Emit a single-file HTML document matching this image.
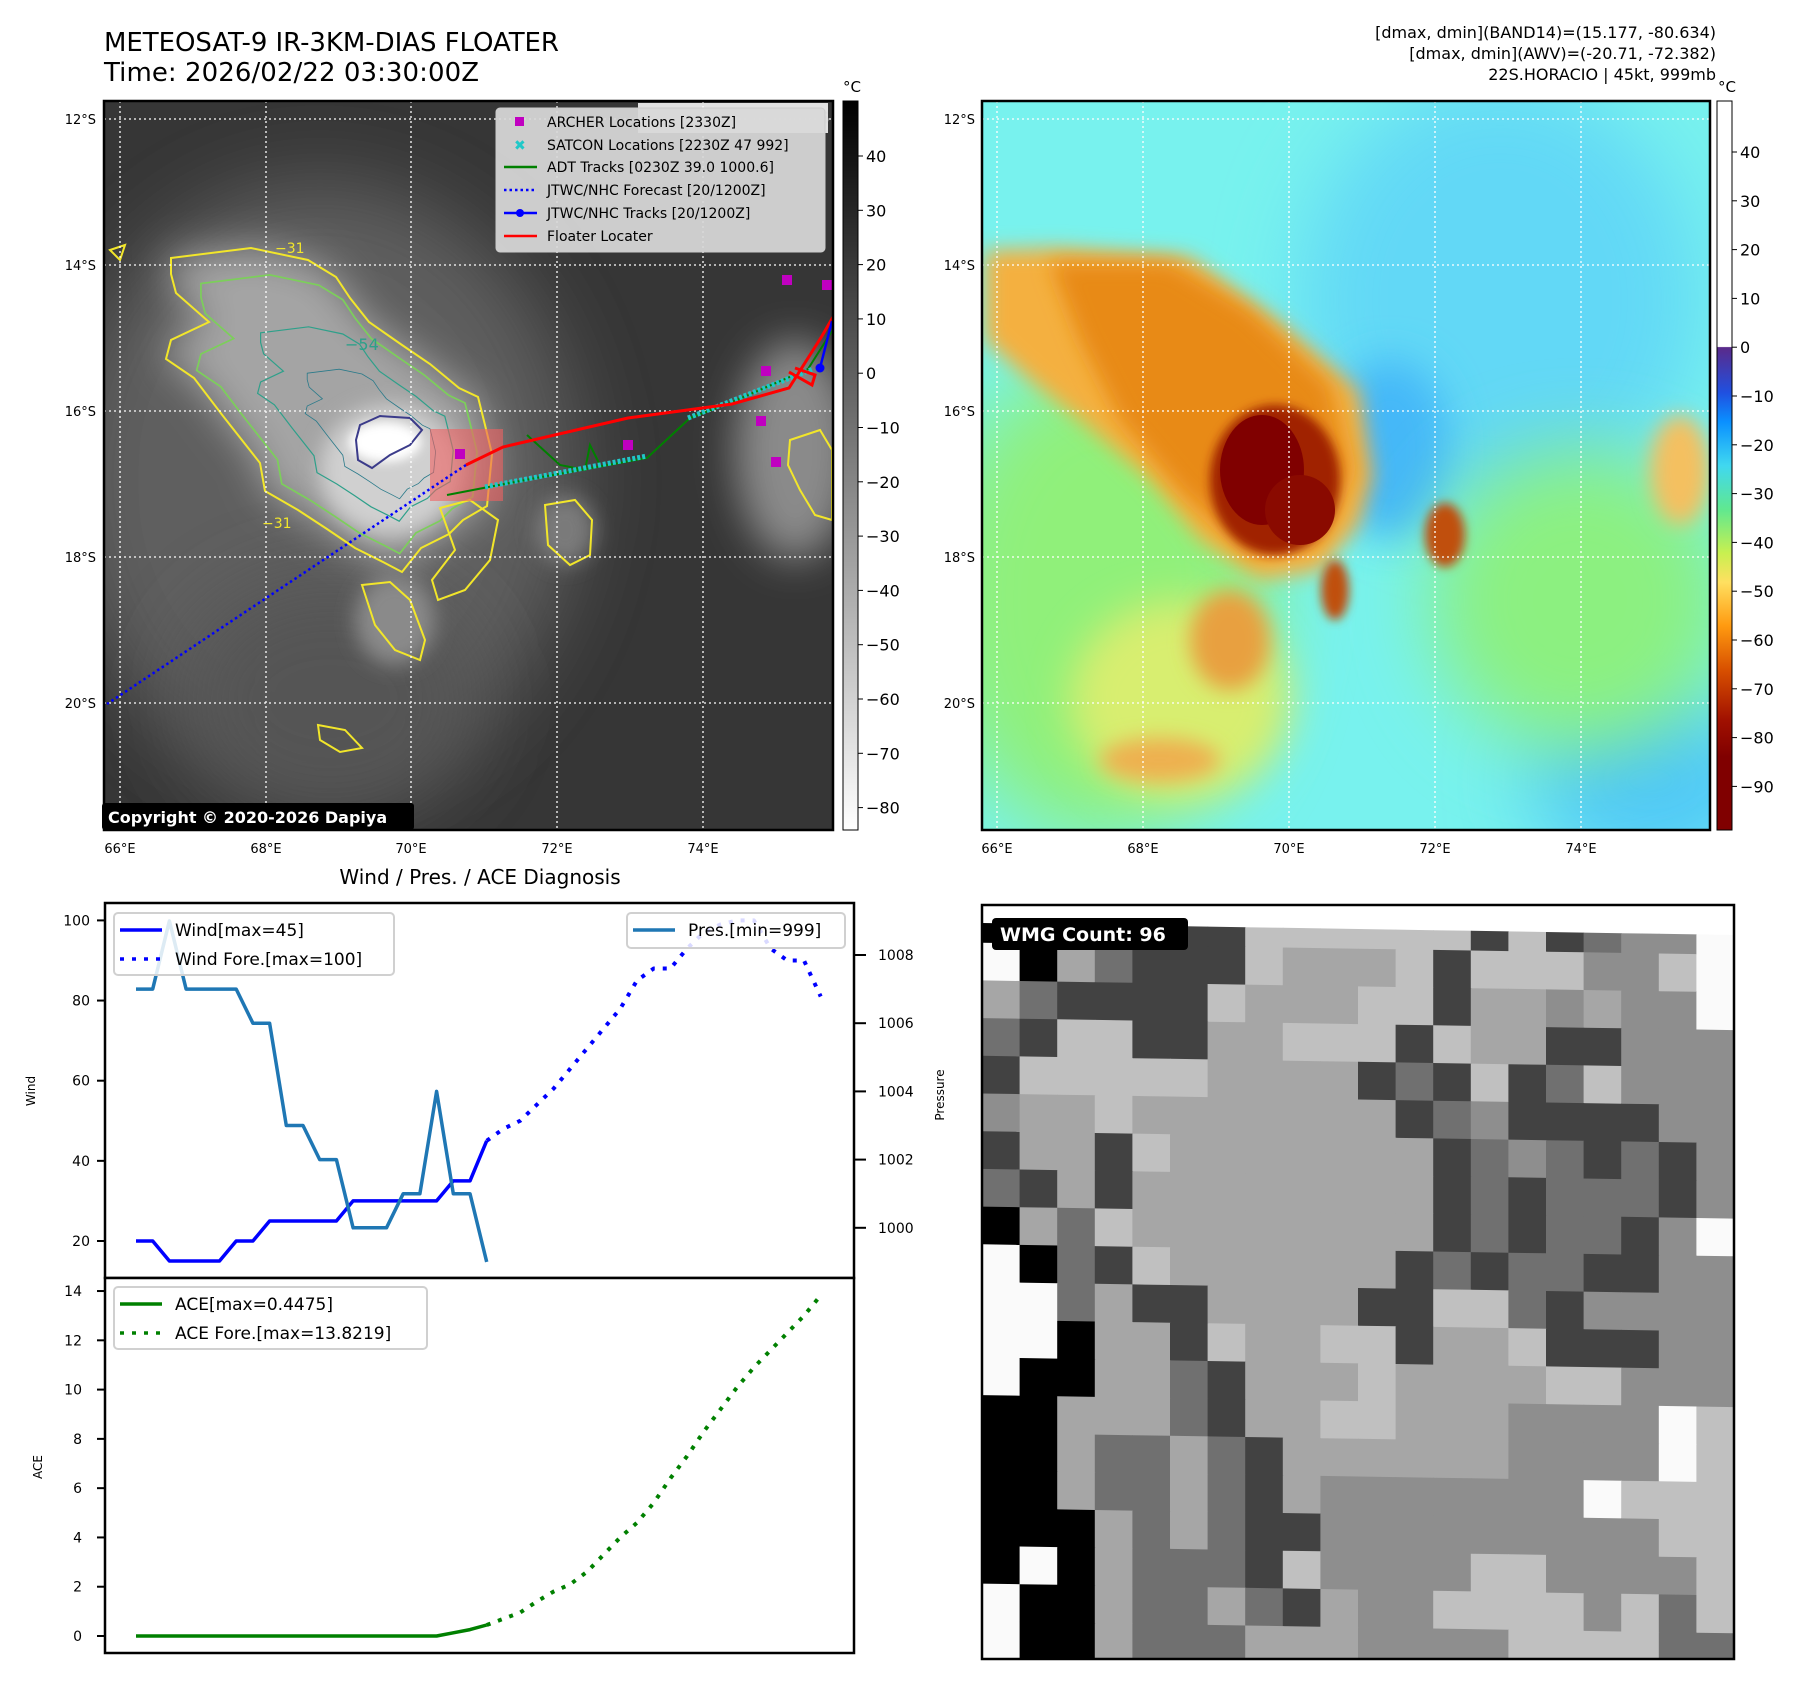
<!DOCTYPE html>
<html><head><meta charset="utf-8"><title>Satellite floater</title>
<style>
html,body{margin:0;padding:0;background:#fff;}
svg{display:block;font-family:"DejaVu Sans","Liberation Sans",sans-serif;}
</style></head>
<body>
<svg id="root" width="1797" height="1690" viewBox="0 0 1797 1690" xmlns="http://www.w3.org/2000/svg">
<defs>
  <filter id="b40" x="-50%" y="-50%" width="200%" height="200%"><feGaussianBlur stdDeviation="40"/></filter>
  <filter id="b20" x="-50%" y="-50%" width="200%" height="200%"><feGaussianBlur stdDeviation="20"/></filter>
  <filter id="b10" x="-50%" y="-50%" width="200%" height="200%"><feGaussianBlur stdDeviation="10"/></filter>
  <filter id="b5" x="-50%" y="-50%" width="200%" height="200%"><feGaussianBlur stdDeviation="5"/></filter>
  <clipPath id="clipL"><rect x="104" y="101" width="729" height="729"/></clipPath>
  <clipPath id="clipR"><rect x="982" y="101" width="728" height="729"/></clipPath>
  <clipPath id="clipM"><rect x="982" y="905" width="752" height="754"/></clipPath>
  <linearGradient id="cbGray" x1="0" y1="0" x2="0" y2="1">
    <stop offset="0" stop-color="#000"/><stop offset="1" stop-color="#fff"/>
  </linearGradient>
  <linearGradient id="cbJet" x1="0" y1="101" x2="0" y2="830" gradientUnits="userSpaceOnUse">
    <stop offset="0" stop-color="#fff"/>
    <stop offset="0.337" stop-color="#fff"/>
    <stop offset="0.338" stop-color="#5a2a8a"/>
    <stop offset="0.40" stop-color="#2050e0"/>
    <stop offset="0.44" stop-color="#0a90ff"/>
    <stop offset="0.50" stop-color="#40d8f0"/>
    <stop offset="0.56" stop-color="#60e890"/>
    <stop offset="0.62" stop-color="#c8f050"/>
    <stop offset="0.66" stop-color="#ffe060"/>
    <stop offset="0.72" stop-color="#ff9a10"/>
    <stop offset="0.78" stop-color="#d85000"/>
    <stop offset="0.85" stop-color="#a01000"/>
    <stop offset="0.90" stop-color="#800000"/>
    <stop offset="1" stop-color="#800000"/>
  </linearGradient>
  <path id="cloudEdge" d="M171,258 L251,248 L308,260 L336,277 L350,298 L369,322 L402,345 L430,364 L459,388 L478,397 L485,425 L492,454 L487,506 L463,520 L449,534 L421,548 L402,572 L383,562 L355,548 L327,529 L298,510 L265,491 L260,463 L223,416 L194,378 L166,359 L171,340 L209,322 L176,293 L171,274 Z"/>
</defs>

<!-- Titles -->
<text x="104" y="51" font-size="26" textLength="455">METEOSAT-9 IR-3KM-DIAS FLOATER</text>
<text x="104" y="81" font-size="26" textLength="375">Time: 2026/02/22 03:30:00Z</text>
<text x="1716" y="38" font-size="16" text-anchor="end">[dmax, dmin](BAND14)=(15.177, -80.634)</text>
<text x="1716" y="59" font-size="16" text-anchor="end">[dmax, dmin](AWV)=(-20.71, -72.382)</text>
<text x="1716" y="80" font-size="16" text-anchor="end">22S.HORACIO | 45kt, 999mb</text>

<!-- LEFT MAP -->
<g clip-path="url(#clipL)">
  <rect x="104" y="101" width="729" height="729" fill="#363636"/>
  <ellipse cx="320" cy="480" rx="260" ry="300" fill="#5e5e5e" filter="url(#b40)"/>
  <ellipse cx="330" cy="700" rx="150" ry="120" fill="#555" filter="url(#b40)"/>
  <ellipse cx="795" cy="450" rx="60" ry="110" fill="#8a8a8a" filter="url(#b20)"/>
  <use href="#cloudEdge" fill="#a4a4a4" filter="url(#b20)"/>
  <ellipse cx="390" cy="470" rx="70" ry="65" fill="#d0d0d0" filter="url(#b10)"/>
  <ellipse cx="385" cy="442" rx="36" ry="20" fill="#fff" filter="url(#b5)"/>
  <ellipse cx="395" cy="620" rx="40" ry="45" fill="#8a8a8a" filter="url(#b10)"/>
  <ellipse cx="565" cy="530" rx="30" ry="35" fill="#7a7a7a" filter="url(#b10)"/>
  <!-- contours -->
  <g fill="none" stroke-width="2">
    <use href="#cloudEdge" stroke="#f2e62a"/>
    <use href="#cloudEdge" stroke="#7ccf5a" transform="translate(385,440) scale(0.86) translate(-385,-440)"/>
    <use href="#cloudEdge" stroke="#2ea08a" transform="translate(395,445) scale(0.6) translate(-395,-445)"/>
    <use href="#cloudEdge" stroke="#2a7a8a" transform="translate(398,450) scale(0.4) translate(-398,-450)"/>
    <path d="M360,425 L380,416 L410,418 L422,430 L410,445 L390,455 L372,468 L358,460 L356,440 Z" stroke="#3b3b8a"/>
    <path d="M362,585 L390,582 L410,600 L425,640 L420,660 L395,650 L375,625 Z" stroke="#f2e62a"/>
    <path d="M545,505 L575,500 L592,520 L590,555 L570,565 L548,545 Z" stroke="#f2e62a"/>
    <path d="M790,440 L820,430 L832,450 L832,520 L815,515 L800,490 L788,465 Z" stroke="#f2e62a"/>
    <path d="M440,508 L470,500 L498,520 L490,560 L465,590 L438,600 L432,580 L455,550 Z" stroke="#f2e62a"/>
    <path d="M318,725 L345,730 L362,748 L340,752 L320,740 Z" stroke="#f2e62a"/>
    <path d="M110,250 L125,245 L120,260 Z" stroke="#f2e62a"/>
  </g>
  <text x="275" y="253" font-size="14" fill="#f2e62a">−31</text>
  <text x="345" y="350" font-size="16" fill="#2ea08a">−54</text>
  <text x="262" y="528" font-size="14" fill="#f2e62a">−31</text>
  <!-- grid -->
  <g stroke="#fff" stroke-width="1.3" stroke-dasharray="2,3">
    <line x1="120" y1="101" x2="120" y2="830"/><line x1="266" y1="101" x2="266" y2="830"/>
    <line x1="411" y1="101" x2="411" y2="830"/><line x1="557" y1="101" x2="557" y2="830"/>
    <line x1="703" y1="101" x2="703" y2="830"/>
    <line x1="104" y1="119" x2="833" y2="119"/><line x1="104" y1="265" x2="833" y2="265"/>
    <line x1="104" y1="411" x2="833" y2="411"/><line x1="104" y1="557" x2="833" y2="557"/>
    <line x1="104" y1="703" x2="833" y2="703"/>
  </g>
  <rect x="430" y="429" width="73" height="72" fill="#f06060" opacity="0.6"/>
  <polyline points="466,465 107,704" fill="none" stroke="#0000ff" stroke-width="2.5" stroke-dasharray="2.5,3"/>
  <polyline points="447,495 525,480 647,458 690,418 732,402 808,369 832,331" fill="none" stroke="#008000" stroke-width="2"/>
  <polyline points="527,435 560,465 585,470 590,445 600,465" fill="none" stroke="#008000" stroke-width="2"/>
  <polyline points="485,487 647,456" fill="none" stroke="#20c8c8" stroke-width="5" stroke-dasharray="3,2"/>
  <polyline points="688,418 813,369" fill="none" stroke="#20c8c8" stroke-width="5" stroke-dasharray="3,2"/>
  <polyline points="466,465 503,447 628,418 732,404 789,388 822,336 833,317" fill="none" stroke="#ff0000" stroke-width="3"/>
  <polyline points="789,372 812,385 815,375 795,368" fill="none" stroke="#ff0000" stroke-width="3"/>
  <polyline points="820,368 832,321" fill="none" stroke="#0000ff" stroke-width="2.5"/>
  <circle cx="820" cy="368" r="4.5" fill="#0000ff"/>
  <g fill="#c000c0">
    <rect x="455" y="449" width="10" height="10"/><rect x="623" y="440" width="10" height="10"/>
    <rect x="756" y="416" width="10" height="10"/><rect x="761" y="366" width="10" height="10"/>
    <rect x="771" y="457" width="10" height="10"/><rect x="782" y="275" width="10" height="10"/>
    <rect x="822" y="280" width="10" height="10"/>
  </g>
  <rect x="638" y="103" width="190" height="30" fill="#fff" opacity="0.85"/>
  <text x="652" y="124" font-size="17" font-weight="bold" fill="#ddd">© EUMETSAT 2026</text>
</g>
<rect x="104" y="101" width="729" height="729" fill="none" stroke="#000" stroke-width="2.5"/>
<g>
  <rect x="496" y="108" width="329" height="144" rx="4" fill="#d8d8d8" fill-opacity="0.93" stroke="#ccc"/>
  <rect x="515" y="117" width="9" height="9" fill="#c000c0"/>
  <text x="547" y="127" font-size="14">ARCHER Locations [2330Z]</text>
  <text x="514" y="150" font-size="14" font-weight="bold" fill="#20c8c8">✖</text>
  <text x="547" y="150" font-size="14">SATCON Locations [2230Z 47 992]</text>
  <line x1="504" y1="167" x2="537" y2="167" stroke="#008000" stroke-width="2.5"/>
  <text x="547" y="172" font-size="14">ADT Tracks [0230Z 39.0 1000.6]</text>
  <line x1="504" y1="190" x2="537" y2="190" stroke="#0000ff" stroke-width="2.5" stroke-dasharray="2.5,3"/>
  <text x="547" y="195" font-size="14">JTWC/NHC Forecast [20/1200Z]</text>
  <line x1="504" y1="213" x2="537" y2="213" stroke="#0000ff" stroke-width="2.5"/><circle cx="520" cy="213" r="4" fill="#0000ff"/>
  <text x="547" y="218" font-size="14">JTWC/NHC Tracks [20/1200Z]</text>
  <line x1="504" y1="236" x2="537" y2="236" stroke="#ff0000" stroke-width="2.5"/>
  <text x="547" y="241" font-size="14">Floater Locater</text>
</g>
<rect x="102" y="803" width="312" height="27" rx="3" fill="#000"/>
<text x="108" y="823" font-size="16" font-weight="bold" fill="#fff">Copyright © 2020-2026 Dapiya</text>

<g font-size="13" text-anchor="end">
  <text x="96" y="124">12°S</text><text x="96" y="270">14°S</text><text x="96" y="416">16°S</text><text x="96" y="562">18°S</text><text x="96" y="708">20°S</text>
</g>
<g font-size="13" text-anchor="middle">
  <text x="120" y="853">66°E</text><text x="266" y="853">68°E</text><text x="411" y="853">70°E</text><text x="557" y="853">72°E</text><text x="703" y="853">74°E</text>
</g>
<rect x="843" y="101" width="15" height="729" fill="url(#cbGray)" stroke="#000" stroke-width="1"/>
<text x="852" y="92" font-size="15" text-anchor="middle">°C</text>
<g id="cb1ticks" font-size="16"></g>

<!-- RIGHT MAP -->
<g clip-path="url(#clipR)">
  <rect x="982" y="101" width="728" height="729" fill="#78f2ee"/>
  <ellipse cx="1500" cy="300" rx="200" ry="220" fill="#62d8f6" filter="url(#b40)"/>
  <ellipse cx="1650" cy="780" rx="120" ry="90" fill="#50c8f8" filter="url(#b40)"/>
  <ellipse cx="1390" cy="450" rx="60" ry="90" fill="#44b8f8" filter="url(#b20)"/>
  <ellipse cx="1580" cy="600" rx="150" ry="150" fill="#8cf080" filter="url(#b40)"/>
  <ellipse cx="1680" cy="470" rx="30" ry="55" fill="#f4c060" filter="url(#b10)"/>
  <ellipse cx="1100" cy="600" rx="170" ry="240" fill="#90f07a" filter="url(#b40)"/>
  <ellipse cx="1180" cy="700" rx="110" ry="100" fill="#d8ee70" filter="url(#b20)"/>
  <ellipse cx="1230" cy="640" rx="40" ry="50" fill="#e8a040" filter="url(#b10)"/>
  <ellipse cx="1160" cy="760" rx="60" ry="22" fill="#eeb050" filter="url(#b10)"/>
  <path d="M985,250 L1060,248 L1190,257 L1281,323 L1359,390 L1373,476 L1359,524 L1320,571 L1260,580 L1200,540 L1150,480 L1080,420 L1030,380 L985,340 Z" fill="#f4b040" filter="url(#b10)"/>
  <path d="M1050,262 L1170,262 L1250,310 L1330,385 L1350,470 L1320,540 L1250,555 L1180,490 L1120,420 L1080,340 Z" fill="#e88a18" filter="url(#b10)"/>
  <ellipse cx="1275" cy="480" rx="65" ry="75" fill="#a02000" filter="url(#b5)"/>
  <ellipse cx="1262" cy="470" rx="42" ry="55" fill="#800000"/>
  <ellipse cx="1300" cy="510" rx="35" ry="35" fill="#8a0a00"/>
  <ellipse cx="1445" cy="535" rx="20" ry="32" fill="#c05010" filter="url(#b5)"/>
  <ellipse cx="1335" cy="590" rx="14" ry="30" fill="#c05010" filter="url(#b5)"/>
  <g stroke="#fff" stroke-width="1.3" stroke-dasharray="2,3">
    <line x1="997" y1="101" x2="997" y2="830"/><line x1="1143" y1="101" x2="1143" y2="830"/>
    <line x1="1289" y1="101" x2="1289" y2="830"/><line x1="1435" y1="101" x2="1435" y2="830"/>
    <line x1="1581" y1="101" x2="1581" y2="830"/>
    <line x1="982" y1="119" x2="1710" y2="119"/><line x1="982" y1="265" x2="1710" y2="265"/>
    <line x1="982" y1="411" x2="1710" y2="411"/><line x1="982" y1="557" x2="1710" y2="557"/>
    <line x1="982" y1="703" x2="1710" y2="703"/>
  </g>
</g>
<rect x="982" y="101" width="728" height="729" fill="none" stroke="#000" stroke-width="2.5"/>
<g font-size="13" text-anchor="end">
  <text x="975" y="124">12°S</text><text x="975" y="270">14°S</text><text x="975" y="416">16°S</text><text x="975" y="562">18°S</text><text x="975" y="708">20°S</text>
</g>
<g font-size="13" text-anchor="middle">
  <text x="997" y="853">66°E</text><text x="1143" y="853">68°E</text><text x="1289" y="853">70°E</text><text x="1435" y="853">72°E</text><text x="1581" y="853">74°E</text>
</g>
<rect x="1717" y="101" width="15" height="729" fill="url(#cbJet)" stroke="#000" stroke-width="1"/>
<text x="1727" y="92" font-size="15" text-anchor="middle">°C</text>
<g id="cb2ticks" font-size="16"></g>

<!-- CHART -->
<text x="480" y="884" font-size="20" text-anchor="middle">Wind / Pres. / ACE Diagnosis</text>
<g id="chart"></g>

<!-- MOSAIC -->
<g id="mosaic" clip-path="url(#clipM)"></g>
<rect x="982" y="905" width="752" height="754" fill="none" stroke="#000" stroke-width="2.5"/>
<rect x="992" y="918" width="196" height="32" rx="4" fill="#000"/>
<text x="1000" y="941" font-size="19" font-weight="bold" fill="#fff">WMG Count: 96</text>
</svg>

<script>
const windObs = [20,20,15,15,15,15,20,20,25,25,25,25,25,30,30,30,30,30,30,35,35,45];
const windFore = [45,48,50,54,58,63,68,73,78,85,88,88,93,97,99,100,100,93,90,90,81];
const presObs = [1007,1007,1009,1007,1007,1007,1007,1006,1006,1003,1003,1002,1002,1000,1000,1000,1001,1001,1004,1001,1001,999];
const aceObs = [0,0,0,0,0,0,0,0,0,0,0,0,0,0,0,0,0,0,0,0.13,0.26,0.4475];
const aceFore = [0.4475,0.7,0.95,1.4,1.8,2.1,2.6,3.3,4.0,4.6,5.4,6.4,7.3,8.3,9.2,10.1,10.9,11.6,12.3,13.0,13.8219];
const windTicks = [20,40,60,80,100];
const presTicks = [1000,1002,1004,1006,1008];
const aceTicks = [0,2,4,6,8,10,12,14];
const cb1Ticks = [40,30,20,10,0,-10,-20,-30,-40,-50,-60,-70,-80];
const cb2Ticks = [40,30,20,10,0,-10,-20,-30,-40,-50,-60,-70,-80,-90];

const NS = 'http://www.w3.org/2000/svg';
function mk(tag, attrs, parent){ const e=document.createElementNS(NS,tag); for(const k in attrs) e.setAttribute(k,attrs[k]); parent.appendChild(e); return e; }

const X = i => 136 + i*16.7;
const yW = v => 1241 - (v-20)*4.0075;
const yP = p => 955 + (1008-p)*34.1;
const yA = v => 1636 - v*24.64;
const yCB1 = v => 156 + (40-v)*5.43;
const yCB2 = v => 152 + (40-v)*4.88;

const chart = document.getElementById('chart');
const f1 = mk('rect',{x:105,y:903,width:749,height:375,fill:'#fff',stroke:'#000','stroke-width':2.5},chart);


const f2 = mk('rect',{x:105,y:1278,width:749,height:375,fill:'#fff',stroke:'#000','stroke-width':2.5},chart);



windTicks.forEach(v=>{
  mk('line',{x1:97,y1:yW(v),x2:105,y2:yW(v),stroke:'#000','stroke-width':2},chart);
  const t=mk('text',{x:90,y:yW(v)+5,'font-size':14,'text-anchor':'end'},chart); t.textContent=v;
  
  
});
presTicks.forEach(v=>{
  mk('line',{x1:854,y1:yP(v),x2:866,y2:yP(v),stroke:'#000','stroke-width':2},chart);
  const t=mk('text',{x:878,y:yP(v)+5,'font-size':14},chart); t.textContent=v;
  
  
});
aceTicks.forEach(v=>{
  mk('line',{x1:97,y1:yA(v),x2:105,y2:yA(v),stroke:'#000','stroke-width':2},chart);
  const t=mk('text',{x:82,y:yA(v)+5,'font-size':14,'text-anchor':'end'},chart); t.textContent=v;
  
  
});
let t=mk('text',{x:35,y:1091,'font-size':12,'text-anchor':'middle',transform:'rotate(-90 35 1091)'},chart); t.textContent='Wind';


t=mk('text',{x:42,y:1467,'font-size':12,'text-anchor':'middle',transform:'rotate(-90 42 1467)'},chart); t.textContent='ACE';


t=mk('text',{x:944,y:1095,'font-size':12,'text-anchor':'middle',transform:'rotate(-90 944 1095)'},chart); t.textContent='Pressure';



function poly(vals, off, yf, color, w, dash, name){
  const pts = vals.map((v,i)=>X(i+off).toFixed(1)+','+yf(v).toFixed(1)).join(' ');
  const a = {points:pts,fill:'none',stroke:color,'stroke-width':w,'stroke-linejoin':'round'};
  if(dash) a['stroke-dasharray']=dash;
  const p = mk('polyline',a,chart);
  
  
}
poly(windObs,0,yW,'#0000ff',3.5,null,'wind-line');
poly(windFore,windObs.length-1,yW,'#0000ff',4,'4,8','wind-forecast-line');
poly(presObs,0,yP,'#1f77b4',3.5,null,'pressure-line');
poly(aceObs,0,yA,'#008000',3.5,null,'ace-line');
poly(aceFore,aceObs.length-1,yA,'#008000',4,'4,8','ace-forecast-line');

function legend(x,y,w,h,items,name){
  const g=mk('g',{},chart);
  
  
  mk('rect',{x:x,y:y,width:w,height:h,rx:4,fill:'#fff','fill-opacity':0.85,stroke:'#d0d0d0','stroke-width':2},g);
  items.forEach((it,k)=>{
    const cy=y+17+k*29;
    const la={x1:x+6,y1:cy,x2:x+48,y2:cy,stroke:it.c,'stroke-width':3.5};
    if(it.d) la['stroke-dasharray']='4,8';
    mk('line',la,g);
    const tx=mk('text',{x:x+61,y:cy+6,'font-size':17},g); tx.textContent=it.t;
  });
}
legend(114,913,280,62,[{c:'#0000ff',t:'Wind[max=45]'},{c:'#0000ff',t:'Wind Fore.[max=100]',d:1}],'wind-legend');
legend(627,913,218,35,[{c:'#1f77b4',t:'Pres.[min=999]'}],'pressure-legend');
legend(114,1287,313,62,[{c:'#008000',t:'ACE[max=0.4475]'},{c:'#008000',t:'ACE Fore.[max=13.8219]',d:1}],'ace-legend');

const cb1=document.getElementById('cb1ticks');
cb1Ticks.forEach(v=>{
  mk('line',{x1:858,y1:yCB1(v),x2:863,y2:yCB1(v),stroke:'#000'},cb1);
  const tt=mk('text',{x:866,y:yCB1(v)+6},cb1); tt.textContent=(v<0?'−'+(-v):v);
});
const cb2=document.getElementById('cb2ticks');
cb2Ticks.forEach(v=>{
  mk('line',{x1:1732,y1:yCB2(v),x2:1737,y2:yCB2(v),stroke:'#000'},cb2);
  const tt=mk('text',{x:1740,y:yCB2(v)+6},cb2); tt.textContent=(v<0?'−'+(-v):v);
});

// mosaic imagery (20x20 cells)
const rows = [
"kkkkkddlllllldldmppw",
"wkgmdddlgggldlllpplw",
"gmddddlggglldggpgppw",
"mdllddggllldlggddppp",
"dlllllggggdmdldmlppp",
"pgglgggggggdmpddddpp",
"dggdlgggggggdmpmdmdp",
"mdgdggggggggdmdmmmdp",
"kgmlggggggggdmdmmdpw",
"wkmdlggggggdmdmmddpp",
"wwmgddggggddllmdpppp",
"wwkggdlgglldggldddpp",
"wkkggmdggglggggllppp",
"kkgggmdggllgggppppwl",
"kkgmmgmdggggggppppwl",
"kkgmmgmdgpppppppwlll",
"kkkgmgmddpppppppppll",
"kwkgmmmdlppppllppppl",
"wkkgmmgmdgppllllplml",
"wkkgmmmgggppppllllmm"
];
const shade = {k:'#000',d:'#424242',m:'#707070',p:'#8e8e8e',g:'#a6a6a6',l:'#c0c0c0',w:'#fafafa'};
const mz=document.getElementById('mosaic');
mk('rect',{x:982,y:905,width:752,height:754,fill:'#fff'},mz);
const cw=752/20, ch=754/20;
rows.forEach((r,ri)=>{
  for(let ci=0;ci<20;ci++){
    const c=r[ci]||'p';
    const x0=982+ci*cw, y0=905+ri*ch+(ri===0?18:0);
    const hh = ri===0? ch-18 : ch;
    mk('polygon',{points:`${x0},${y0+ci*0.6} ${x0+cw+0.6},${y0+(ci+1)*0.6} ${x0+cw+0.6},${y0+hh+(ci+1)*0.6+0.6} ${x0},${y0+hh+ci*0.6+0.6}`,fill:shade[c]},mz);
  }
});
</script>
</body></html>
